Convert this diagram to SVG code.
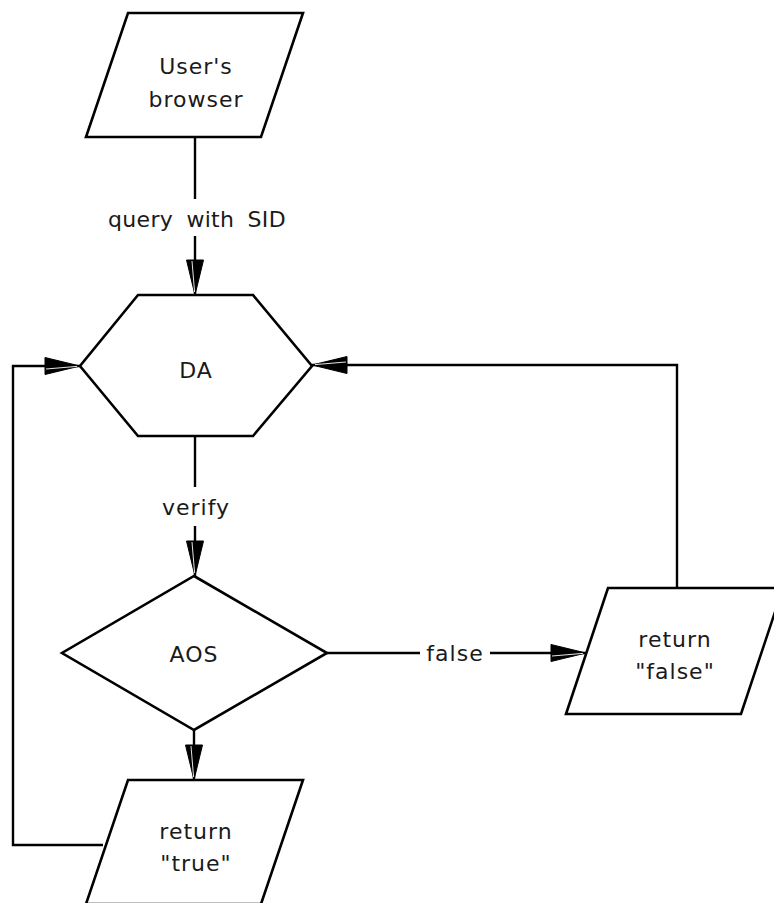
<svg xmlns="http://www.w3.org/2000/svg" width="774" height="903" viewBox="0 0 774 903">
<style>
.shape{fill:#fff;stroke:#000;stroke-width:2.6;stroke-linejoin:miter}
.conn{fill:none;stroke:#000;stroke-width:2.4}
.t{font-family:"DejaVu Sans",Verdana,sans-serif;font-size:22px;letter-spacing:1px;fill:#1a1a1a;text-anchor:middle}
.ws{letter-spacing:0.3px;word-spacing:6px}
</style>
<defs>
<marker id="ah" markerUnits="userSpaceOnUse" viewBox="0 0 38 20" markerWidth="38" markerHeight="20" refX="36" refY="10" orient="auto">
<path d="M1,1.5 L36,10 L1,18.5 Z" fill="#000" stroke="#000" stroke-width="1" stroke-linejoin="round"/>
<path d="M2,13 L33,10.4" stroke="#fff" stroke-width="0.9" fill="none"/>
</marker>
</defs>
<rect width="774" height="903" fill="#fff"/>
<g id="connectors">
<path class="conn" d="M195,137 V199"/>
<path class="conn" d="M195,236 V295" marker-end="url(#ah)"/>
<path class="conn" d="M195,436 V487"/>
<path class="conn" d="M195,526 V576" marker-end="url(#ah)"/>
<path class="conn" d="M194,730 V780" marker-end="url(#ah)"/>
<path class="conn" d="M327,653 H420"/>
<path class="conn" d="M490,653 H586" marker-end="url(#ah)"/>
<path class="conn" d="M677,588 V365 H312" marker-end="url(#ah)"/>
<path class="conn" d="M103,845 H13 V366 H80" marker-end="url(#ah)"/>
<text class="t ws" x="197" y="227">query with SID</text>
<text class="t" x="196" y="515">verify</text>
<text class="t" x="455" y="661">false</text>
</g>
<g id="users-browser">
<polygon class="shape" points="128,13 303,13 261,137 86,137"/>
<text class="t" x="196" y="74">User's</text>
<text class="t" x="196" y="107">browser</text>
</g>
<g id="DA">
<polygon class="shape" points="138,295 253,295 312,366 253,436 138,436 80,366"/>
<text class="t" x="196" y="378">DA</text>
</g>
<g id="AOS">
<polygon class="shape" points="194,576 327,653 194,730 62,653"/>
<text class="t" x="194" y="662">AOS</text>
</g>
<g id="return-false">
<polygon class="shape" points="608,588 783,588 741,714 566,714"/>
<text class="t" x="675" y="647">return</text>
<text class="t" x="675" y="679">"false"</text>
</g>
<g id="return-true">
<polygon class="shape" points="128,780 303,780 261,904 86,904"/>
<text class="t" x="196" y="839">return</text>
<text class="t" x="196" y="871">"true"</text>
</g>
</svg>
